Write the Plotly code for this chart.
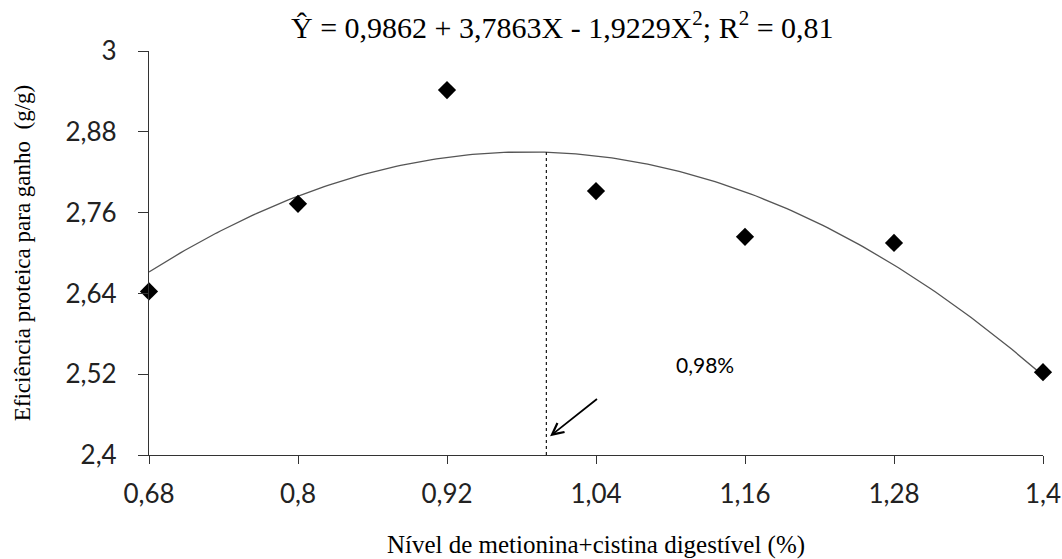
import numpy as np
import plotly.graph_objects as go

# Data
x_levels = [0.68, 0.80, 0.92, 1.04, 1.16, 1.28, 1.40]
efficiency = [2.643, 2.773, 2.942, 2.792, 2.724, 2.715, 2.523]
coef = [0.9862, 3.7863, -1.9229]  # regression: b0 + b1*X + b2*X^2
x_ticks = [0.68, 0.80, 0.92, 1.04, 1.16, 1.28, 1.40]
x_tick_text = ["0,68", "0,8", "0,92", "1,04", "1,16", "1,28", "1,4"]
y_ticks = [2.40, 2.52, 2.64, 2.76, 2.88, 3.00]
y_tick_text = ["2,4", "2,52", "2,64", "2,76", "2,88", "3"]
optimum_x = 1.0
optimum_label = "0,98%"

xc = np.linspace(min(x_levels), max(x_levels), 200)
yc = coef[0] + coef[1] * xc + coef[2] * xc ** 2
y_opt = coef[0] + coef[1] * optimum_x + coef[2] * optimum_x ** 2

fig = go.Figure()
fig.add_trace(go.Scatter(x=xc, y=yc, mode="lines",
                         line=dict(color="#555555", width=1.3),
                         showlegend=False, hoverinfo="skip"))
fig.add_trace(go.Scatter(x=[optimum_x, optimum_x], y=[2.4, y_opt], mode="lines",
                         line=dict(color="black", width=1.1, dash="dot"),
                         showlegend=False, hoverinfo="skip"))
fig.add_trace(go.Scatter(x=x_levels, y=efficiency, mode="markers",
                         marker=dict(symbol="diamond", size=14, color="black"),
                         showlegend=False, cliponaxis=False))

fig.add_annotation(x=1.003, y=2.428, ax=1.042, ay=2.485, xref="x", yref="y",
                   axref="x", ayref="y", showarrow=True, arrowhead=5,
                   arrowsize=1.25, arrowwidth=1.8, arrowcolor="black", text="")
fig.add_annotation(x=1.128, y=2.534, xref="x", yref="y", text=optimum_label,
                   showarrow=False, font=dict(family="Lato", size=21, color="black"))
fig.add_annotation(x=0.463, y=1.065, xref="paper", yref="paper",
                   text="Ŷ = 0,9862 + 3,7863X - 1,9229X<sup>2</sup>; R<sup>2</sup> = 0,81",
                   showarrow=False, yanchor="middle",
                   font=dict(family="Liberation Serif", size=30, color="black"))

axis_common = dict(showgrid=False, zeroline=False, showline=True, linecolor="#333333",
                   linewidth=1.3, ticks="outside", tickcolor="#333333",
                   tickwidth=1.3, automargin=False,
                   tickfont=dict(family="Lato", size=26, color="#222222"))

fig.update_xaxes(range=[0.68, 1.40], tickvals=x_ticks, ticktext=x_tick_text,
                 ticklen=8, ticklabelstandoff=8,
                 title=dict(text="Nível de metionina+cistina digestível (%)",
                            font=dict(family="Liberation Serif", size=25, color="black"),
                            standoff=29),
                 **axis_common)
fig.update_yaxes(range=[2.40, 3.00], tickvals=y_ticks, ticktext=y_tick_text,
                 ticklen=10, ticklabelstandoff=16,
                 title=dict(text="Eficiência proteica para ganho  (g/g)",
                            font=dict(family="Liberation Serif", size=23, color="black"),
                            standoff=28),
                 **axis_common)

fig.update_layout(width=1062, height=559, plot_bgcolor="white", paper_bgcolor="white",
                  margin=dict(l=149, r=19, t=51, b=104))
fig.write_html("out.html")
